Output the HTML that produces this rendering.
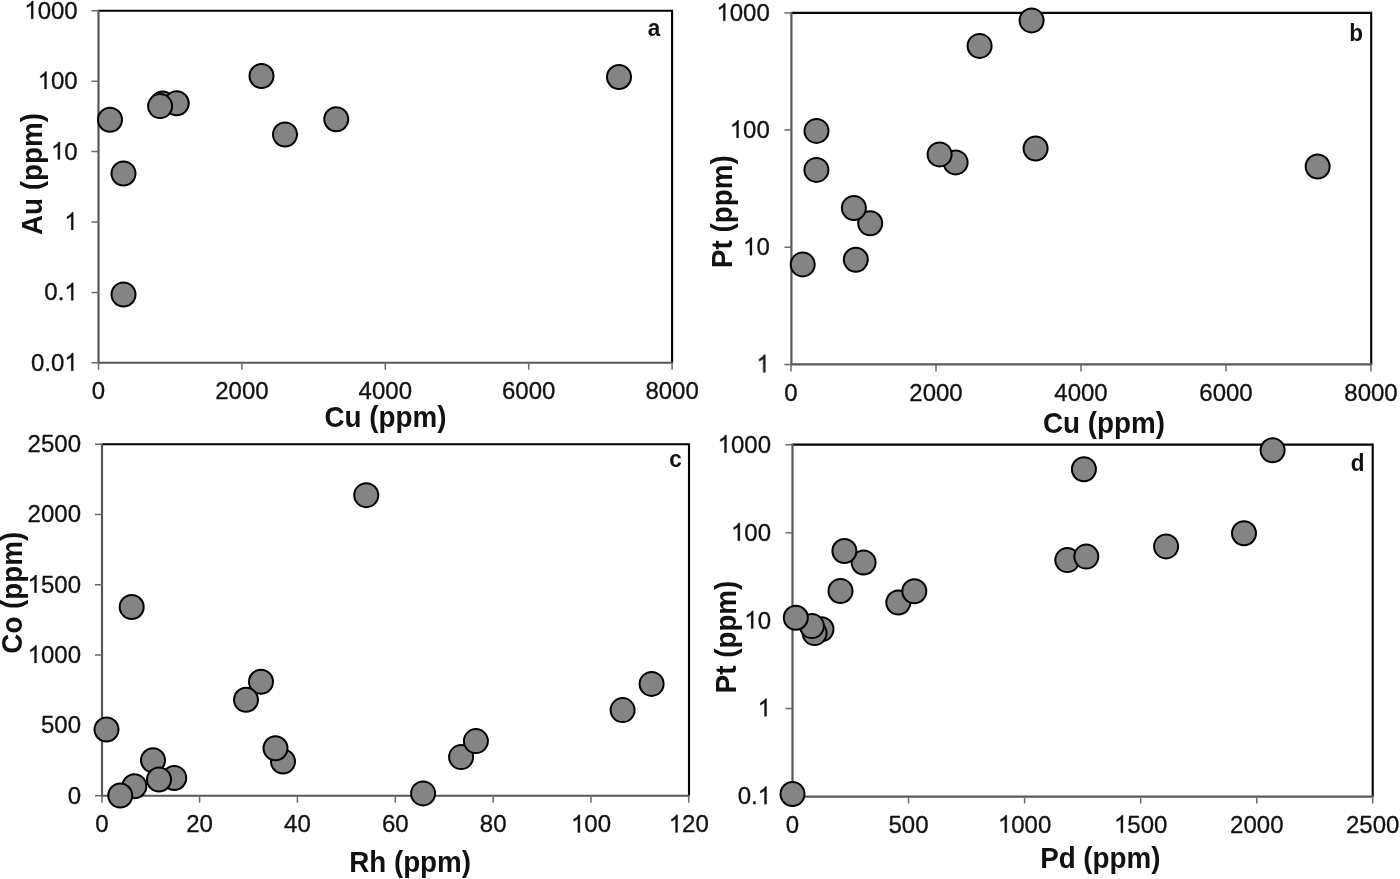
<!DOCTYPE html>
<html><head><meta charset="utf-8"><title>Scatter plots</title>
<style>
html,body{margin:0;padding:0;background:#fff;}
body{width:1400px;height:879px;overflow:hidden;font-family:"Liberation Sans",sans-serif;}
svg{display:block;font-family:"Liberation Sans",sans-serif;}
.t{font-size:24px;fill:#111;stroke:#111;stroke-width:0.3px;}
.b{font-size:27.8px;font-weight:bold;fill:#111;}
.l{font-size:22.5px;font-weight:bold;fill:#111;}
.ax{stroke:#585858;stroke-width:2.2;fill:none;}
.tk{stroke:#6a6a6a;stroke-width:1.5;fill:none;}
.h{fill:none;stroke:none;}
.g{fill:#111;stroke:#111;stroke-width:24;}
.bd{stroke:#000;stroke-width:2.1;fill:none;}
.p{fill:#848484;stroke:#000;stroke-width:2;}
</style></head>
<body>
<svg width="1400" height="879" viewBox="0 0 1400 879">
<rect x="0" y="0" width="1400" height="879" fill="#ffffff"/>
<g opacity="0.999">
<g>
<path class="bd" d="M98.5 10.8 H672.1 V362.75"/>
<path class="ax" d="M98.5 9.8 V362.75 H673.1"/>
<path class="tk" d="M98.5 362.75 v7M241.9 362.75 v7M385.3 362.75 v7M528.7 362.75 v7M672.1 362.75 v7M98.5 10.8 h-7M98.5 81.2 h-7M98.5 151.6 h-7M98.5 222 h-7M98.5 292.4 h-7M98.5 362.75 h-7"/>
<text class="t" transform="translate(98.5 399) scale(1 1.02)" text-anchor="middle">0</text>
<text class="t" transform="translate(241.9 399) scale(1 1.02)" text-anchor="middle">2000</text>
<text class="t" transform="translate(385.3 399) scale(1 1.02)" text-anchor="middle">4000</text>
<text class="t" transform="translate(528.7 399) scale(1 1.02)" text-anchor="middle">6000</text>
<text class="t" transform="translate(672.1 399) scale(1 1.02)" text-anchor="middle">8000</text>
<g transform="translate(77.7 18.7) scale(1 1.02)"><text class="t" text-anchor="end"><tspan class="h">1</tspan>000</text><path class="g" transform="translate(-53.39 0) scale(0.01172 -0.01172)" d="M763 0H583V1147Q518 1085 412.5 1023T223 930V1104Q374 1175 487 1276T647 1472H763Z"/></g>
<g transform="translate(77.7 89.1) scale(1 1.02)"><text class="t" text-anchor="end"><tspan class="h">1</tspan>00</text><path class="g" transform="translate(-40.04 0) scale(0.01172 -0.01172)" d="M763 0H583V1147Q518 1085 412.5 1023T223 930V1104Q374 1175 487 1276T647 1472H763Z"/></g>
<g transform="translate(77.7 159.5) scale(1 1.02)"><text class="t" text-anchor="end"><tspan class="h">1</tspan>0</text><path class="g" transform="translate(-26.7 0) scale(0.01172 -0.01172)" d="M763 0H583V1147Q518 1085 412.5 1023T223 930V1104Q374 1175 487 1276T647 1472H763Z"/></g>
<g transform="translate(77.7 229.9) scale(1 1.02)"><text class="t" text-anchor="end"><tspan class="h">1</tspan></text><path class="g" transform="translate(-13.35 0) scale(0.01172 -0.01172)" d="M763 0H583V1147Q518 1085 412.5 1023T223 930V1104Q374 1175 487 1276T647 1472H763Z"/></g>
<g transform="translate(77.7 300.3) scale(1 1.02)"><text class="t" text-anchor="end">0.<tspan class="h">1</tspan></text><path class="g" transform="translate(-13.35 0) scale(0.01172 -0.01172)" d="M763 0H583V1147Q518 1085 412.5 1023T223 930V1104Q374 1175 487 1276T647 1472H763Z"/></g>
<g transform="translate(77.7 370.65) scale(1 1.02)"><text class="t" text-anchor="end">0.0<tspan class="h">1</tspan></text><path class="g" transform="translate(-13.35 0) scale(0.01172 -0.01172)" d="M763 0H583V1147Q518 1085 412.5 1023T223 930V1104Q374 1175 487 1276T647 1472H763Z"/></g>
<text class="b" transform="translate(385.5 427) scale(1 1.07)" text-anchor="middle">Cu (ppm)</text>
<text class="b" transform="translate(41.5 174) rotate(-90) scale(1 1.07)" text-anchor="middle">Au (ppm)</text>
<text class="l" transform="translate(654 36.2) scale(1 1.07)" text-anchor="middle">a</text>
<circle class="p" cx="110" cy="119.75" r="12"/>
<circle class="p" cx="123.5" cy="173.5" r="12"/>
<circle class="p" cx="162.6" cy="103.4" r="12"/>
<circle class="p" cx="176.7" cy="103.2" r="12"/>
<circle class="p" cx="160.1" cy="106.1" r="12"/>
<circle class="p" cx="261.5" cy="76" r="12"/>
<circle class="p" cx="285" cy="134.5" r="12"/>
<circle class="p" cx="336.25" cy="119.25" r="12"/>
<circle class="p" cx="619" cy="77.05" r="12"/>
<circle class="p" cx="123.5" cy="294.5" r="12"/>
</g>
<g>
<path class="bd" d="M791.4 12.9 H1371.2 V364.4"/>
<path class="ax" d="M791.4 11.9 V364.4 H1372.2"/>
<path class="tk" d="M791 364.4 v7M936 364.4 v7M1081 364.4 v7M1226 364.4 v7M1371 364.4 v7M791.4 12.9 h-7M791.4 130 h-7M791.4 247.3 h-7M791.4 364.4 h-7"/>
<text class="t" transform="translate(791 401) scale(1 1.02)" text-anchor="middle">0</text>
<text class="t" transform="translate(936 401) scale(1 1.02)" text-anchor="middle">2000</text>
<text class="t" transform="translate(1081 401) scale(1 1.02)" text-anchor="middle">4000</text>
<text class="t" transform="translate(1226 401) scale(1 1.02)" text-anchor="middle">6000</text>
<text class="t" transform="translate(1371 401) scale(1 1.02)" text-anchor="middle">8000</text>
<g transform="translate(769.75 20.8) scale(1 1.02)"><text class="t" text-anchor="end"><tspan class="h">1</tspan>000</text><path class="g" transform="translate(-53.39 0) scale(0.01172 -0.01172)" d="M763 0H583V1147Q518 1085 412.5 1023T223 930V1104Q374 1175 487 1276T647 1472H763Z"/></g>
<g transform="translate(769.75 137.9) scale(1 1.02)"><text class="t" text-anchor="end"><tspan class="h">1</tspan>00</text><path class="g" transform="translate(-40.04 0) scale(0.01172 -0.01172)" d="M763 0H583V1147Q518 1085 412.5 1023T223 930V1104Q374 1175 487 1276T647 1472H763Z"/></g>
<g transform="translate(769.75 255.2) scale(1 1.02)"><text class="t" text-anchor="end"><tspan class="h">1</tspan>0</text><path class="g" transform="translate(-26.7 0) scale(0.01172 -0.01172)" d="M763 0H583V1147Q518 1085 412.5 1023T223 930V1104Q374 1175 487 1276T647 1472H763Z"/></g>
<g transform="translate(769.75 372.3) scale(1 1.02)"><text class="t" text-anchor="end"><tspan class="h">1</tspan></text><path class="g" transform="translate(-13.35 0) scale(0.01172 -0.01172)" d="M763 0H583V1147Q518 1085 412.5 1023T223 930V1104Q374 1175 487 1276T647 1472H763Z"/></g>
<text class="b" transform="translate(1104 433) scale(1 1.07)" text-anchor="middle">Cu (ppm)</text>
<text class="b" transform="translate(732.3 211.6) rotate(-90) scale(1 1.07)" text-anchor="middle">Pt (ppm)</text>
<text class="l" transform="translate(1356 40.5) scale(1 1.07)" text-anchor="middle">b</text>
<circle class="p" cx="1031.6" cy="20.4" r="12"/>
<circle class="p" cx="979.6" cy="45.9" r="12"/>
<circle class="p" cx="816.5" cy="130.9" r="12"/>
<circle class="p" cx="816.4" cy="169.9" r="12"/>
<circle class="p" cx="1035.6" cy="148.5" r="12"/>
<circle class="p" cx="955.6" cy="162.4" r="12"/>
<circle class="p" cx="939.6" cy="154.4" r="12"/>
<circle class="p" cx="870.2" cy="223.2" r="12"/>
<circle class="p" cx="853.9" cy="208" r="12"/>
<circle class="p" cx="855.8" cy="259.7" r="12"/>
<circle class="p" cx="802.7" cy="264.4" r="12"/>
<circle class="p" cx="1317.65" cy="166.55" r="12"/>
</g>
<g>
<path class="bd" d="M102 444.25 H689 V795.75"/>
<path class="ax" d="M102 443.25 V795.75 H690"/>
<path class="tk" d="M101.9 795.75 v7M199.6 795.75 v7M297.4 795.75 v7M395.3 795.75 v7M493.2 795.75 v7M591 795.75 v7M688.7 795.75 v7M102 444.25 h-7M102 514.5 h-7M102 584.8 h-7M102 655.1 h-7M102 725.4 h-7M102 795.75 h-7"/>
<text class="t" transform="translate(101.9 832.4) scale(1 1.02)" text-anchor="middle">0</text>
<text class="t" transform="translate(199.6 832.4) scale(1 1.02)" text-anchor="middle">20</text>
<text class="t" transform="translate(297.4 832.4) scale(1 1.02)" text-anchor="middle">40</text>
<text class="t" transform="translate(395.3 832.4) scale(1 1.02)" text-anchor="middle">60</text>
<text class="t" transform="translate(493.2 832.4) scale(1 1.02)" text-anchor="middle">80</text>
<g transform="translate(591 832.4) scale(1 1.02)"><text class="t" text-anchor="middle"><tspan class="h">1</tspan>00</text><path class="g" transform="translate(-20.02 0) scale(0.01172 -0.01172)" d="M763 0H583V1147Q518 1085 412.5 1023T223 930V1104Q374 1175 487 1276T647 1472H763Z"/></g>
<g transform="translate(688.7 832.4) scale(1 1.02)"><text class="t" text-anchor="middle"><tspan class="h">1</tspan>20</text><path class="g" transform="translate(-20.02 0) scale(0.01172 -0.01172)" d="M763 0H583V1147Q518 1085 412.5 1023T223 930V1104Q374 1175 487 1276T647 1472H763Z"/></g>
<text class="t" transform="translate(81 452.15) scale(1 1.02)" text-anchor="end">2500</text>
<text class="t" transform="translate(81 522.4) scale(1 1.02)" text-anchor="end">2000</text>
<g transform="translate(81 592.7) scale(1 1.02)"><text class="t" text-anchor="end"><tspan class="h">1</tspan>500</text><path class="g" transform="translate(-53.39 0) scale(0.01172 -0.01172)" d="M763 0H583V1147Q518 1085 412.5 1023T223 930V1104Q374 1175 487 1276T647 1472H763Z"/></g>
<g transform="translate(81 663) scale(1 1.02)"><text class="t" text-anchor="end"><tspan class="h">1</tspan>000</text><path class="g" transform="translate(-53.39 0) scale(0.01172 -0.01172)" d="M763 0H583V1147Q518 1085 412.5 1023T223 930V1104Q374 1175 487 1276T647 1472H763Z"/></g>
<text class="t" transform="translate(81 733.3) scale(1 1.02)" text-anchor="end">500</text>
<text class="t" transform="translate(81 803.65) scale(1 1.02)" text-anchor="end">0</text>
<text class="b" transform="translate(410.1 871.8) scale(1 1.07)" text-anchor="middle">Rh (ppm)</text>
<text class="b" transform="translate(22.3 592.7) rotate(-90) scale(1 1.07)" text-anchor="middle">Co (ppm)</text>
<text class="l" transform="translate(675.5 467) scale(1 1.07)" text-anchor="middle">c</text>
<circle class="p" cx="366.25" cy="495.15" r="12"/>
<circle class="p" cx="131.7" cy="607" r="12"/>
<circle class="p" cx="134.4" cy="786.2" r="12"/>
<circle class="p" cx="120.25" cy="795.5" r="12"/>
<circle class="p" cx="153" cy="760.25" r="12"/>
<circle class="p" cx="174.25" cy="778" r="12"/>
<circle class="p" cx="159" cy="779.5" r="12"/>
<circle class="p" cx="261" cy="681.75" r="12"/>
<circle class="p" cx="246" cy="699.75" r="12"/>
<circle class="p" cx="283" cy="761.5" r="12"/>
<circle class="p" cx="275.5" cy="748.25" r="12"/>
<circle class="p" cx="423.1" cy="793.4" r="12"/>
<circle class="p" cx="461.1" cy="757.1" r="12"/>
<circle class="p" cx="475.9" cy="741.1" r="12"/>
<circle class="p" cx="622.6" cy="710.1" r="12"/>
<circle class="p" cx="651.6" cy="683.9" r="12"/>
<circle class="p" cx="106.5" cy="729.5" r="12"/>
</g>
<g>
<path class="bd" d="M792.5 444.6 H1372.7 V796.6"/>
<path class="ax" d="M792.5 443.6 V796.6 H1373.7"/>
<path class="tk" d="M792.5 796.6 v7M908.5 796.6 v7M1024.6 796.6 v7M1140.7 796.6 v7M1256.8 796.6 v7M1372.7 796.6 v7M792.5 444.8 h-7M792.5 532.8 h-7M792.5 620.6 h-7M792.5 708.4 h-7M792.5 796.25 h-7"/>
<text class="t" transform="translate(792.5 832.8) scale(1 1.02)" text-anchor="middle">0</text>
<text class="t" transform="translate(908.5 832.8) scale(1 1.02)" text-anchor="middle">500</text>
<g transform="translate(1024.6 832.8) scale(1 1.02)"><text class="t" text-anchor="middle"><tspan class="h">1</tspan>000</text><path class="g" transform="translate(-26.7 0) scale(0.01172 -0.01172)" d="M763 0H583V1147Q518 1085 412.5 1023T223 930V1104Q374 1175 487 1276T647 1472H763Z"/></g>
<g transform="translate(1140.7 832.8) scale(1 1.02)"><text class="t" text-anchor="middle"><tspan class="h">1</tspan>500</text><path class="g" transform="translate(-26.7 0) scale(0.01172 -0.01172)" d="M763 0H583V1147Q518 1085 412.5 1023T223 930V1104Q374 1175 487 1276T647 1472H763Z"/></g>
<text class="t" transform="translate(1256.8 832.8) scale(1 1.02)" text-anchor="middle">2000</text>
<text class="t" transform="translate(1372.7 832.8) scale(1 1.02)" text-anchor="middle">2500</text>
<g transform="translate(771 452.7) scale(1 1.02)"><text class="t" text-anchor="end"><tspan class="h">1</tspan>000</text><path class="g" transform="translate(-53.39 0) scale(0.01172 -0.01172)" d="M763 0H583V1147Q518 1085 412.5 1023T223 930V1104Q374 1175 487 1276T647 1472H763Z"/></g>
<g transform="translate(771 540.7) scale(1 1.02)"><text class="t" text-anchor="end"><tspan class="h">1</tspan>00</text><path class="g" transform="translate(-40.04 0) scale(0.01172 -0.01172)" d="M763 0H583V1147Q518 1085 412.5 1023T223 930V1104Q374 1175 487 1276T647 1472H763Z"/></g>
<g transform="translate(771 628.5) scale(1 1.02)"><text class="t" text-anchor="end"><tspan class="h">1</tspan>0</text><path class="g" transform="translate(-26.7 0) scale(0.01172 -0.01172)" d="M763 0H583V1147Q518 1085 412.5 1023T223 930V1104Q374 1175 487 1276T647 1472H763Z"/></g>
<g transform="translate(771 716.3) scale(1 1.02)"><text class="t" text-anchor="end"><tspan class="h">1</tspan></text><path class="g" transform="translate(-13.35 0) scale(0.01172 -0.01172)" d="M763 0H583V1147Q518 1085 412.5 1023T223 930V1104Q374 1175 487 1276T647 1472H763Z"/></g>
<g transform="translate(771 804.15) scale(1 1.02)"><text class="t" text-anchor="end">0.<tspan class="h">1</tspan></text><path class="g" transform="translate(-13.35 0) scale(0.01172 -0.01172)" d="M763 0H583V1147Q518 1085 412.5 1023T223 930V1104Q374 1175 487 1276T647 1472H763Z"/></g>
<text class="b" transform="translate(1100.3 867.9) scale(1 1.07)" text-anchor="middle">Pd (ppm)</text>
<text class="b" transform="translate(736.1 637) rotate(-90) scale(1 1.07)" text-anchor="middle">Pt (ppm)</text>
<text class="l" transform="translate(1357.6 471.4) scale(1 1.07)" text-anchor="middle">d</text>
<circle class="p" cx="1083.9" cy="469.2" r="12"/>
<circle class="p" cx="1272.6" cy="450.3" r="12"/>
<circle class="p" cx="1067.3" cy="560.1" r="12"/>
<circle class="p" cx="1086.3" cy="556.6" r="12"/>
<circle class="p" cx="1166.1" cy="546.4" r="12"/>
<circle class="p" cx="1244" cy="533.2" r="12"/>
<circle class="p" cx="821.5" cy="629.3" r="12"/>
<circle class="p" cx="814.6" cy="633.1" r="12"/>
<circle class="p" cx="811.9" cy="626.1" r="12"/>
<circle class="p" cx="795.8" cy="617.8" r="12"/>
<circle class="p" cx="898.3" cy="602.5" r="12"/>
<circle class="p" cx="914.3" cy="591.3" r="12"/>
<circle class="p" cx="840.5" cy="591" r="12"/>
<circle class="p" cx="863.6" cy="562.5" r="12"/>
<circle class="p" cx="844.4" cy="551" r="12"/>
<circle class="p" cx="792.5" cy="794" r="12"/>
</g>
</g>
</svg>
</body></html>
